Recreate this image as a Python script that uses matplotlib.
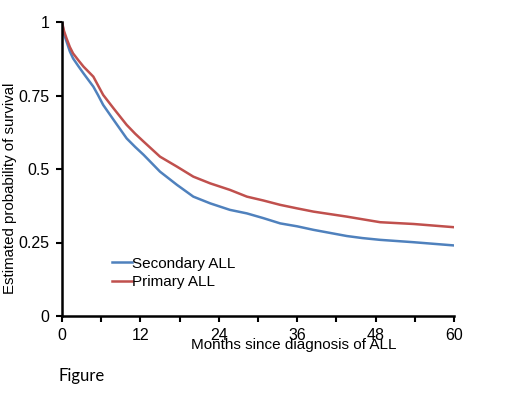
import matplotlib
matplotlib.use("Agg")
import matplotlib.pyplot as plt
from matplotlib.ticker import MultipleLocator

months = [0, 0.3, 0.7, 1.2, 1.7, 2.5, 3.3, 4.8, 5.5, 6.3, 7.9, 9.9, 11.2, 12.5,
          15, 17.6, 20.1, 22.7, 25.7, 28.3, 30.8, 33.4, 36, 38.5, 43.6, 46,
          48.7, 53.8, 60]
secondary = [1.0, 0.96, 0.933, 0.9, 0.876, 0.85, 0.825, 0.78, 0.752, 0.718,
             0.667, 0.604, 0.575, 0.548, 0.491, 0.446, 0.406, 0.383, 0.361,
             0.349, 0.333, 0.315, 0.305, 0.293, 0.272, 0.265, 0.259, 0.251,
             0.240]
primary = [1.0, 0.97, 0.944, 0.915, 0.893, 0.87, 0.848, 0.814, 0.785, 0.752,
           0.706, 0.650, 0.62, 0.593, 0.542, 0.508, 0.474, 0.451, 0.429,
           0.406, 0.393, 0.378, 0.366, 0.355, 0.338, 0.329, 0.319, 0.313,
           0.302]
xticks = [0, 12, 24, 36, 48, 60]
yticks = [0, 0.25, 0.5, 0.75, 1]
ytick_labels = ["0", "0.25", "0.5", "0.75", "1"]

plt.rcParams['font.family'] = ['Liberation Sans', 'DejaVu Sans']

fig = plt.figure(figsize=(5.2, 3.96), dpi=100)
ax = fig.add_axes([62/520, 1-316/396, (454-62)/520, (316-22)/396])

ax.plot(months, secondary, color='#4F81BD', lw=1.8, label='Secondary ALL')
ax.plot(months, primary, color='#C0504D', lw=1.8, label='Primary ALL')

ax.set_xlim(0, 60)
ax.set_ylim(0, 1)
ax.set_xticks(xticks)
ax.xaxis.set_minor_locator(MultipleLocator(6))
ax.set_yticks(yticks)
ax.set_yticklabels(ytick_labels)
for s in ['top', 'right']:
    ax.spines[s].set_visible(False)
for s in ['left', 'bottom']:
    ax.spines[s].set_linewidth(1.8)
    ax.spines[s].set_color('black')
ax.tick_params(axis='both', which='both', direction='out', length=4, width=1.5,
               labelsize=11.5, colors='black')
ax.tick_params(axis='x', pad=5)
ax.tick_params(axis='y', pad=5)

leg = ax.legend(loc='upper left', bbox_to_anchor=(0.113, 0.222), frameon=False,
                fontsize=11, handlelength=1.3, handletextpad=0.0,
                labelspacing=0.3, borderaxespad=0)

fig.text(294/520, 1-349/396, 'Months since diagnosis of ALL', ha='center',
         va='baseline', fontsize=11)
fig.text(10/520, 1-188/396, 'Estimated probability of survival', ha='center',
         va='center', rotation=90, fontsize=10.8)
fig.text(59/520, 1-381/396, 'Figure', ha='left', va='baseline', fontsize=12,
         family=['Lato', 'DejaVu Sans'])

fig.savefig('out.png', dpi=100)
